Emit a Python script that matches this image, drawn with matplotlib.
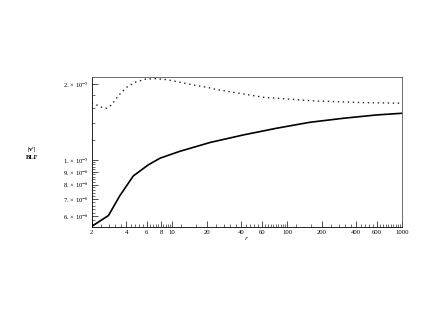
import matplotlib

matplotlib.use("Agg")
import matplotlib.pyplot as plt
import numpy as np
from matplotlib.ticker import FixedLocator, NullFormatter

# radius r and the two ratios |v'|/BLF
r_solid = [2, 2.8, 3.5, 4.6, 6.2, 7.85, 11.7, 21.4, 41.6, 81.2, 158, 308, 601, 1000]
v_solid = [5.47e-6, 6.04e-6, 7.21e-6, 8.65e-6, 9.56e-6, 1.016e-5, 1.082e-5,
           1.172e-5, 1.255e-5, 1.334e-5, 1.408e-5, 1.460e-5, 1.505e-5, 1.528e-5]

r_dotted = [2, 2.44, 2.7, 2.99, 3.41, 4.03, 4.76, 5.82, 7.1, 8.98, 11.7, 15.3,
            21.4, 24.4, 35, 62, 169, 460, 1000]
v_dotted = [1.68e-5, 1.614e-5, 1.599e-5, 1.652e-5, 1.793e-5, 1.935e-5, 2.025e-5,
            2.081e-5, 2.093e-5, 2.074e-5, 2.025e-5, 1.976e-5, 1.923e-5, 1.894e-5,
            1.845e-5, 1.767e-5, 1.71e-5, 1.683e-5, 1.674e-5]

x_ticks = [2, 4, 6, 8, 10, 20, 40, 60, 100, 200, 400, 600, 1000]
y_ticks = [6e-6, 7e-6, 8e-6, 9e-6, 1e-5, 2e-5]
y_tick_labels = ["6. × 10$^{-6}$", "7. × 10$^{-6}$", "8. × 10$^{-6}$",
                 "9. × 10$^{-6}$", "1. × 10$^{-5}$", "2. × 10$^{-5}$"]

plt.rcParams["font.family"] = ["Liberation Serif", "DejaVu Serif"]
plt.rcParams["mathtext.fontset"] = "stix"

fig = plt.figure(figsize=(4.43, 3.19), dpi=100)
ax = fig.add_axes([0.207, 0.2884, 0.7007, 0.4712])

ax.plot(r_solid, v_solid, color="black", linewidth=1.2)
ax.plot(r_dotted, v_dotted, color="#222222", linewidth=1.0, linestyle=(0, (1, 2.6)))

ax.set_xscale("log")
ax.set_yscale("log")
ax.set_xlim(2, 1000)
ax.set_ylim(5.44e-6, 2.13e-5)

ax.xaxis.set_major_locator(FixedLocator(x_ticks))
ax.set_xticklabels([str(t) for t in x_ticks])
x_minor = list(np.arange(2.4, 10, 0.4)) + list(np.arange(12, 100, 4)) + list(np.arange(120, 1000, 40))
ax.xaxis.set_minor_locator(FixedLocator(x_minor))
ax.xaxis.set_minor_formatter(NullFormatter())

ax.yaxis.set_major_locator(FixedLocator(y_ticks))
ax.set_yticklabels(y_tick_labels)
y_minor = list(np.arange(5.6e-6, 1e-5, 2e-7)) + [1.2e-5, 1.4e-5, 1.6e-5, 1.8e-5]
ax.yaxis.set_minor_locator(FixedLocator(y_minor))
ax.yaxis.set_minor_formatter(NullFormatter())

ax.tick_params(which="both", direction="in", top=False, right=False,
               labelsize=4.8, pad=2, color="#333333")
ax.tick_params(which="major", length=4, width=0.6)
ax.tick_params(which="minor", length=2, width=0.5)

for spine in ax.spines.values():
    spine.set_linewidth(0.6)
    spine.set_color("#555555")
ax.spines["left"].set_color("black")
ax.spines["bottom"].set_color("black")

ax.set_xlabel("$r$", fontsize=5, labelpad=0)
fig.text(0.072, 0.52, "|v$^r$|\nBLF", fontsize=4.8, fontweight="bold",
         ha="center", va="center", linespacing=1.0)

fig.savefig("out.png", dpi=100)
